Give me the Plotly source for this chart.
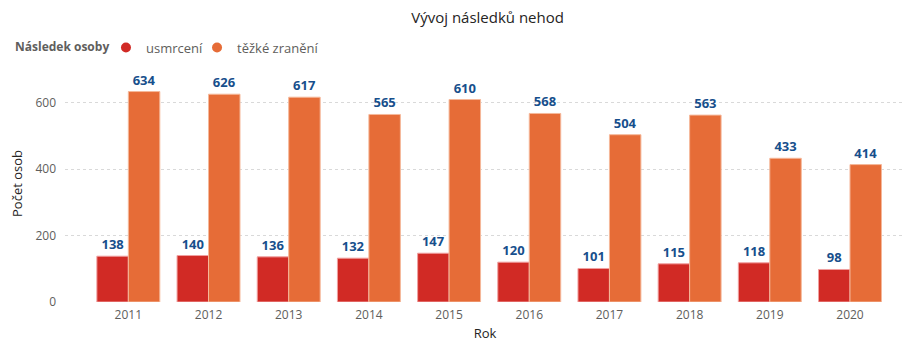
import plotly.graph_objects as go

roky = ["2011", "2012", "2013", "2014", "2015", "2016", "2017", "2018", "2019", "2020"]
usmrceni = [138, 140, 136, 132, 147, 120, 101, 115, 118, 98]
tezke = [634, 626, 617, 565, 610, 568, 504, 563, 433, 414]
y_ticks = [0, 200, 400, 600]

FONT = "Segoe UI, Open Sans, sans-serif"
LABEL_COLOR = "#174F8C"
RED = "#D12A25"
ORANGE = "#E66C37"

fig = go.Figure()
fig.add_trace(go.Bar(
    x=roky, y=usmrceni, name="usmrcení", showlegend=False,
    marker=dict(color=RED, line=dict(color="#F0A0A0", width=1)),
    text=usmrceni, textposition="outside", cliponaxis=False,
    textfont=dict(color=LABEL_COLOR, size=13, family=FONT, weight="bold"),
))
fig.add_trace(go.Bar(
    x=roky, y=tezke, name="těžké zranění", showlegend=False,
    marker=dict(color=ORANGE, line=dict(color="#F5B89A", width=1)),
    text=tezke, textposition="outside", cliponaxis=False,
    textfont=dict(color=LABEL_COLOR, size=13, family=FONT, weight="bold"),
))
# legend entries with circle markers (two legends to control spacing)
fig.add_trace(go.Scatter(
    x=[None], y=[None], mode="markers", name="usmrcení", legend="legend",
    marker=dict(color=RED, size=10, symbol="circle"),
))
fig.add_trace(go.Scatter(
    x=[None], y=[None], mode="markers", name="těžké zranění", legend="legend2",
    marker=dict(color=ORANGE, size=10, symbol="circle"),
))

leg_common = dict(orientation="h", xanchor="left", yanchor="middle", y=0.862,
                  yref="container", xref="container",
                  font=dict(size=13, color="#605E5C"), itemwidth=30,
                  bgcolor="rgba(0,0,0,0)")

fig.update_layout(
    width=908, height=345,
    margin=dict(l=65, r=3, t=65, b=43),
    paper_bgcolor="white", plot_bgcolor="white",
    font=dict(family=FONT, color="#605E5C", size=12),
    title=dict(text="Vývoj následků nehod", x=0.537, xanchor="center",
               y=0.95, yanchor="middle", yref="container",
               font=dict(size=15, color="#252423", family=FONT)),
    barmode="group", bargap=0.215, bargroupgap=0,
    legend=dict(x=0.1167, **leg_common),
    legend2=dict(x=0.217, **leg_common),
    showlegend=True,
    annotations=[dict(text="<b>Následek osoby</b>", x=-0.062, xref="paper",
                      xanchor="left", y=1.08, yref="paper", yanchor="middle",
                      showarrow=False, font=dict(size=12, color="#605E5C", family=FONT))],
)
fig.update_xaxes(
    type="category", range=[-0.79, 9.686],
    title=dict(text="Rok", font=dict(size=13, color="#252423"), standoff=6),
    tickfont=dict(size=12, color="#605E5C"),
    showgrid=False, zeroline=False, showline=False, ticks="",
    ticklabelstandoff=4,
)
fig.update_yaxes(
    range=[0, 714], tickvals=y_ticks,
    title=dict(text="Počet osob", font=dict(size=13, color="#252423"), standoff=9),
    tickfont=dict(size=12, color="#605E5C"),
    showgrid=True, gridcolor="#D9D9D9", griddash="dot", gridwidth=1,
    zeroline=False, showline=False, ticks="", ticklabelstandoff=8,
)
fig.write_html("out.html")
